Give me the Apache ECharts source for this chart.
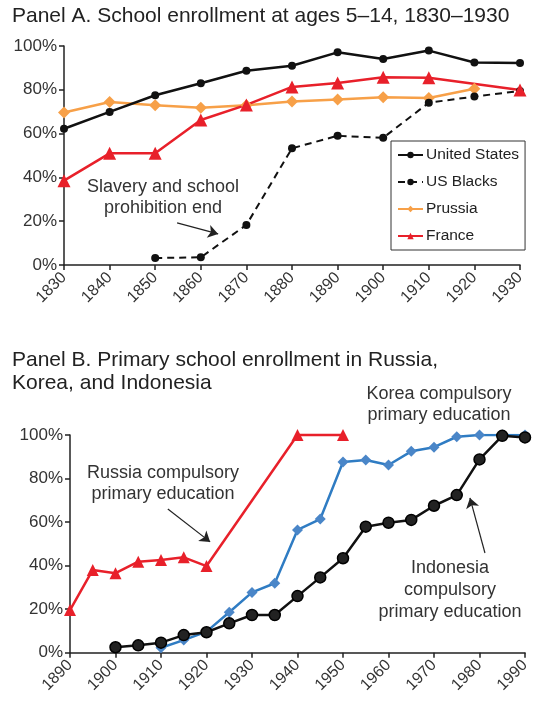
<!DOCTYPE html>
<html>
<head>
<meta charset="utf-8">
<script src="https://cdn.jsdelivr.net/npm/echarts@6/dist/echarts.min.js"></script>
<style>
html,body{margin:0;padding:0;background:#fff;}
#chart{width:534px;height:702px;}
</style>
</head>
<body>
<div id="chart"></div>
<script>
// ---------- Panel A data ----------
const yearsA = [1830, 1840, 1850, 1860, 1870, 1880, 1890, 1900, 1910, 1920, 1930];
const unitedStates = [62.2, 69.9, 77.5, 83.0, 88.7, 91.0, 97.1, 94.1, 97.9, 92.5, 92.2];
const usBlacks     = [null, null, 3.2, 3.5, 18.3, 53.3, 59.0, 58.1, 74.1, 76.9, 79.5];
const prussia      = [69.6, 74.4, 72.9, 71.8, 72.9, 74.7, 75.6, 76.6, 76.3, 80.5, null];
const france       = [38.5, 51.0, 51.0, 66.2, 73.1, 81.3, 83.1, 85.7, 85.5, null, 79.9];

// ---------- Panel B data ----------
const yearsB = [1890, 1895, 1900, 1905, 1910, 1915, 1920, 1925, 1930, 1935, 1940,
                1945, 1950, 1955, 1960, 1965, 1970, 1975, 1980, 1985, 1990];
const russia    = [19.6, 38.0, 36.5, 41.8, 42.6, 43.8, 39.8, null, null, null, 100,
                   null, 100, null, null, null, null, null, null, null, null];
const korea     = [null, null, null, null, 2.3, 5.8, 9.7, 18.6, 27.7, 31.9, 56.4,
                   61.4, 87.6, 88.5, 86.2, 92.5, 94.4, 99.2, 100, 100, 100];
const indonesia = [null, null, 2.5, 3.4, 4.6, 8.1, 9.4, 13.5, 17.3, 17.3, 26.0,
                   34.6, 43.4, 57.9, 59.7, 61.0, 67.5, 72.4, 88.8, 99.6, 98.9];

// ---------- ticks ----------
const yTicks = [0, 20, 40, 60, 80, 100];
const xTicksA = [1830, 1930, 10];
const xTicksB = [1890, 1990, 10];

// ---------- annotation arrows (data coordinates) ----------
const arrowA       = [[1854.8, 19.2], [1863.8, 14.2]];
const arrowRussia  = [[1911.5, 66.0], [1920.8, 50.9]];
const arrowKorea   = [[1958.4, 102.3], [1948.7, 66.9]];
const arrowIndo    = [[1981.2, 45.8], [1977.9, 71.1]];

const FONT = '"Liberation Sans", Arial, Helvetica, sans-serif';
const pairs = (xs, ys) => xs.map((x, i) => [x, ys[i]]);

function arrowMark(list) {
  return {
    silent: true,
    symbol: ['none', 'arrow'],
    symbolSize: 10,
    label: {show: false},
    lineStyle: {color: '#222', width: 1.2, type: 'solid'},
    itemStyle: {color: '#222'},
    data: list.map(a => [{coord: a[0]}, {coord: a[1]}])
  };
}

function xAxisCfg(grid, t) {
  return {
    type: 'value', gridIndex: grid, min: t[0], max: t[1], interval: t[2],
    axisLine: {show: true, lineStyle: {color: '#222', width: 1.5}},
    axisTick: {show: true, length: 5, lineStyle: {color: '#222', width: 1.5}},
    splitLine: {show: false},
    axisLabel: {rotate: 45, margin: 10, color: '#333', fontSize: 16, fontFamily: FONT,
                formatter: v => String(v)}
  };
}
function yAxisCfg(grid) {
  return {
    type: 'value', gridIndex: grid, min: yTicks[0], max: yTicks[yTicks.length - 1],
    interval: yTicks[1] - yTicks[0],
    axisLine: {show: true, lineStyle: {color: '#222', width: 1.5}},
    axisTick: {show: true, length: 5, lineStyle: {color: '#222', width: 1.5}},
    splitLine: {show: false},
    axisLabel: {margin: 7, color: '#333', fontSize: 17, fontFamily: FONT, formatter: '{value}%'}
  };
}

const chart = echarts.init(document.getElementById('chart'), null, {renderer: 'canvas'});

const option = {
  animation: false,
  backgroundColor: '#fff',
  grid: [
    {left: 64, right: 14, top: 46, height: 219},
    {left: 70, right: 9, top: 435, height: 217.7}
  ],
  xAxis: [xAxisCfg(0, xTicksA), xAxisCfg(1, xTicksB)],
  yAxis: [yAxisCfg(0), yAxisCfg(1)],
  legend: {
    data: ['United States', 'US Blacks', 'Prussia', 'France'],
    orient: 'vertical',
    left: 391, top: 141,
    padding: [6, 6, 6, 6],
    itemGap: 11,
    itemWidth: 25,
    itemHeight: 8,
    borderColor: '#333',
    borderWidth: 1,
    selectedMode: false,
    textStyle: {fontSize: 15.5, fontFamily: FONT, color: '#222', padding: [0, 0, 0, -2]}
  },
  graphic: [
    {type: 'text', left: 12, top: 5, style: {text: 'Panel A. School enrollment at ages 5\u201314, 1830\u20131930',
      font: '21px ' + FONT, fill: '#222', lineHeight: 22}},
    {type: 'text', x: 163, y: 176.5, style: {text: 'Slavery and school\nprohibition end',
      font: '18px ' + FONT, fill: '#333', lineHeight: 21, textAlign: 'center', textVerticalAlign: 'top'}},
    {type: 'text', left: 12, top: 348.5, style: {text: 'Panel B. Primary school enrollment in Russia,\nKorea, and Indonesia',
      font: '21px ' + FONT, fill: '#222', lineHeight: 23}},
    {type: 'text', x: 163, y: 462.5, style: {text: 'Russia compulsory\nprimary education',
      font: '18px ' + FONT, fill: '#333', lineHeight: 21, textAlign: 'center', textVerticalAlign: 'top'}},
    {type: 'text', x: 439, y: 384, style: {text: 'Korea compulsory\nprimary education',
      font: '18px ' + FONT, fill: '#333', lineHeight: 21, textAlign: 'center', textVerticalAlign: 'top'}},
    {type: 'text', x: 450, y: 557, style: {text: 'Indonesia\ncompulsory\nprimary education',
      font: '18px ' + FONT, fill: '#333', lineHeight: 22, textAlign: 'center', textVerticalAlign: 'top'}}
  ],
  series: [
    {name: 'Prussia', type: 'line', xAxisIndex: 0, yAxisIndex: 0,
     data: pairs(yearsA, prussia), symbol: 'diamond', symbolSize: 12,
     lineStyle: {color: '#f7a048', width: 2.5}, itemStyle: {color: '#f7a048'}},
    {name: 'US Blacks', type: 'line', xAxisIndex: 0, yAxisIndex: 0, clip: false,
     data: pairs(yearsA, usBlacks), symbol: 'circle', symbolSize: 8,
     lineStyle: {color: '#111', width: 2, type: [7, 5]}, itemStyle: {color: '#111'},
     markLine: arrowMark([arrowA])},
    {name: 'France', type: 'line', xAxisIndex: 0, yAxisIndex: 0, connectNulls: true,
     data: pairs(yearsA, france), symbol: 'triangle', symbolSize: 13,
     lineStyle: {color: '#e8202a', width: 2.5}, itemStyle: {color: '#e8202a'}},
    {name: 'United States', type: 'line', xAxisIndex: 0, yAxisIndex: 0,
     data: pairs(yearsA, unitedStates), symbol: 'circle', symbolSize: 8,
     lineStyle: {color: '#111', width: 2.5}, itemStyle: {color: '#111'}},

    {name: 'Russia', type: 'line', xAxisIndex: 1, yAxisIndex: 1, connectNulls: true, clip: false,
     data: pairs(yearsB, russia), symbol: 'triangle', symbolSize: 12,
     lineStyle: {color: '#e8202a', width: 2.5}, itemStyle: {color: '#e8202a'},
     markLine: arrowMark([arrowRussia, arrowKorea, arrowIndo])},
    {name: 'Korea', type: 'line', xAxisIndex: 1, yAxisIndex: 1,
     data: pairs(yearsB, korea), symbol: 'diamond', symbolSize: 11,
     lineStyle: {color: '#2f7cc3', width: 2.5}, itemStyle: {color: '#4a86c8'}},
    {name: 'Indonesia', type: 'line', xAxisIndex: 1, yAxisIndex: 1,
     data: pairs(yearsB, indonesia), symbol: 'circle', symbolSize: 11,
     lineStyle: {color: '#111', width: 2.5},
     itemStyle: {color: '#222', borderColor: '#000', borderWidth: 1.5}}
  ]
};
chart.setOption(option);
</script>
</body>
</html>
